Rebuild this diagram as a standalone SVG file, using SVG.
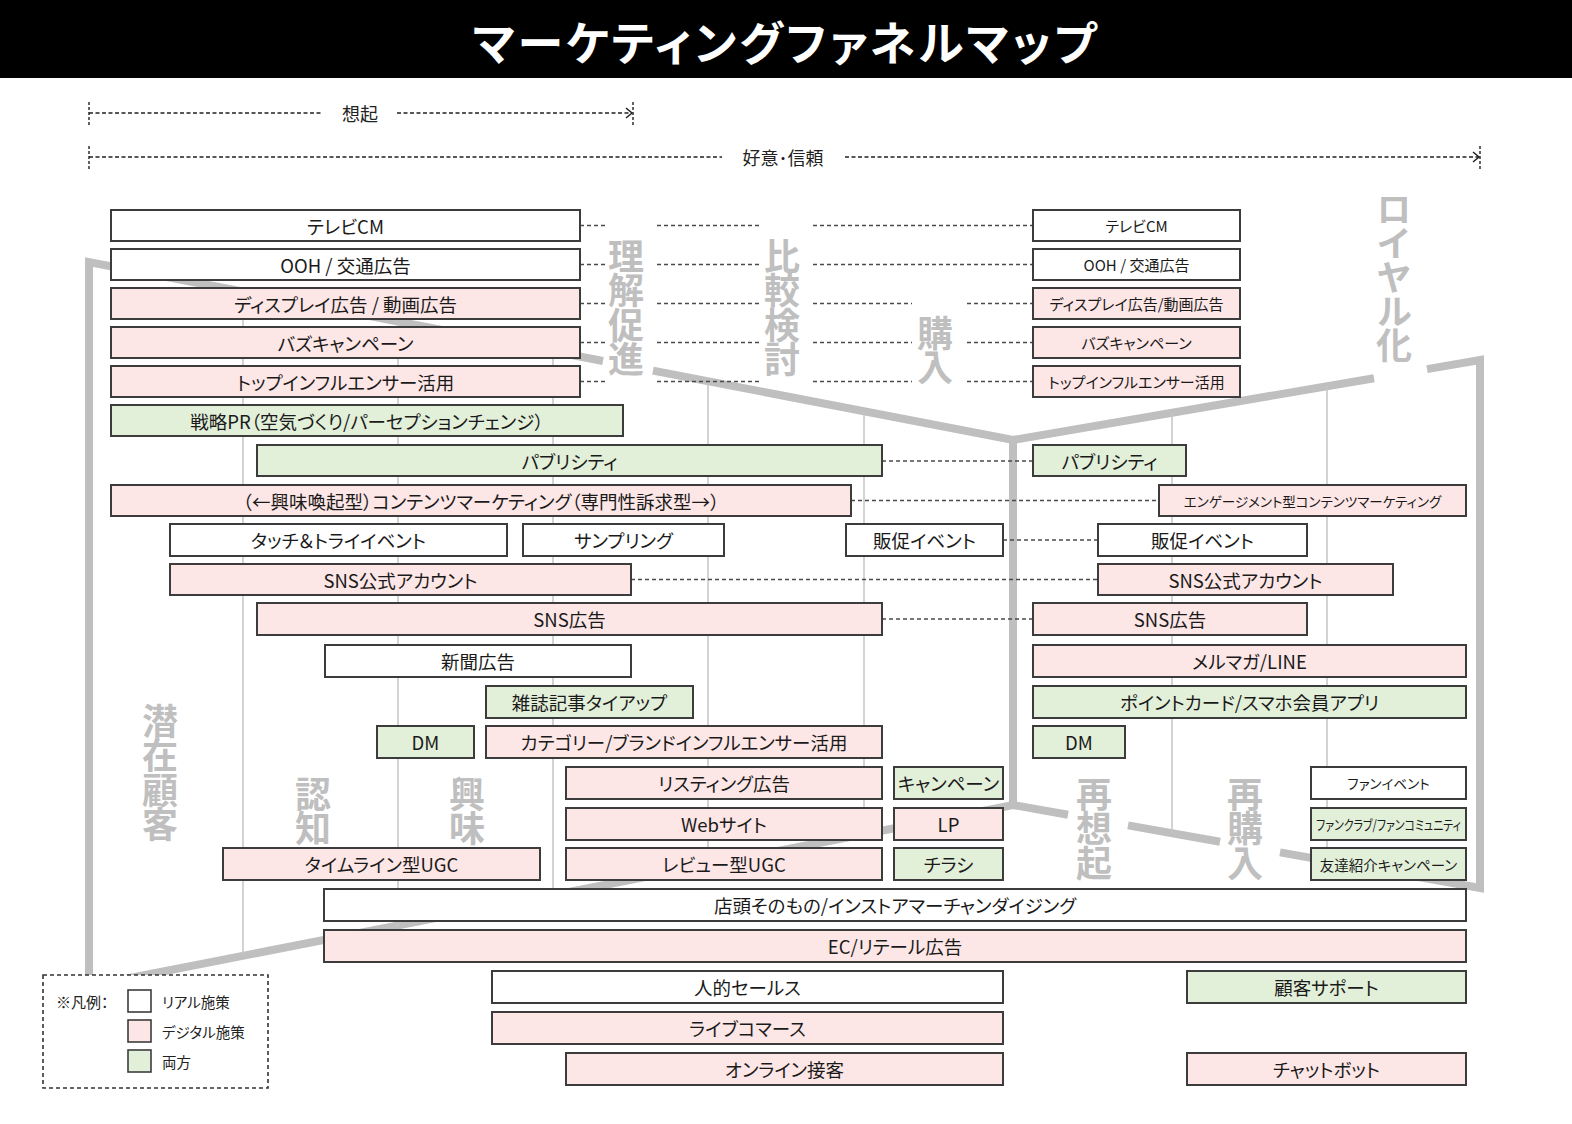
<svg xmlns="http://www.w3.org/2000/svg" width="1572" height="1124" viewBox="0 0 1572 1124">
<defs>
<style>
.w{fill:#ffffff}
.p{fill:#fde6e6}
.g{fill:#e2efd9}
.node rect{stroke:#3c3c3c;stroke-width:2}
text{font-family:"Noto Sans CJK JP","Noto Sans",sans-serif;font-feature-settings:"palt";}
.t{font-size:18.5px;fill:#1a1a1a;text-anchor:middle;dominant-baseline:central}
.s{font-size:15px}
.xs{font-size:13.5px}
.stage{font-size:36px;font-weight:700;fill:#bfbfbf;writing-mode:vertical-rl;letter-spacing:-1.5px;font-feature-settings:normal}
.funnel{stroke:#bfbfbf;stroke-width:8;fill:none;stroke-linejoin:miter}
.grid{stroke:#c4c4c4;stroke-width:1.5}
.dash{stroke:#4a4a4a;stroke-width:1.3;stroke-dasharray:4 3;fill:none}
.dim{stroke:#222;stroke-width:1.4;stroke-dasharray:4 2.5;fill:none}
.tick{stroke:#222;stroke-width:1.4;stroke-dasharray:3 2}
.lbl{font-size:18px;fill:#222;text-anchor:middle;dominant-baseline:central}
.leg{font-size:14.5px;fill:#222;dominant-baseline:central}
</style>
</defs>
<rect x="0" y="0" width="1572" height="1124" fill="#ffffff"/>
<g id="title">
<rect x="0" y="0" width="1572" height="78" fill="#000"/>
<text x="786" y="40" font-size="46" font-weight="700" fill="#fff" text-anchor="middle" dominant-baseline="central" letter-spacing="3">マーケティングファネルマップ</text>
</g>
<g id="dimensions">
<line class="tick" x1="89" y1="102" x2="89" y2="125"/>
<line class="tick" x1="633" y1="102" x2="633" y2="125"/>
<path class="dim" d="M89,113 H323 M397,113 H631"/>
<path d="M626,108 L632,113 L626,118" stroke="#222" stroke-width="1.5" fill="none"/>
<text class="lbl" x="360" y="113">想起</text>
<line class="tick" x1="89" y1="146" x2="89" y2="169"/>
<line class="tick" x1="1480" y1="146" x2="1480" y2="169"/>
<path class="dim" d="M89,157 H722 M845,157 H1478"/>
<path d="M1473,152 L1479,157 L1473,162" stroke="#222" stroke-width="1.5" fill="none"/>
<text class="lbl" x="783" y="157">好意･信頼</text>
</g>
<g id="funnel">
<path class="funnel" d="M89,990 L89,262 L603,361"/>
<path class="funnel" d="M653,370.6 L1013,440 L1374,378.2"/>
<path class="funnel" d="M1427,369.1 L1480,360 L1480,888 L1280,852.4"/>
<path class="funnel" d="M1220,841.8 L1128,825.4"/>
<path class="funnel" d="M1068,814.8 L1013,805 L89,986"/>
<path class="funnel" d="M1013,440 L1013,805"/>
<g class="grid">
<line x1="243" y1="291.5" x2="243" y2="956"/>
<line x1="398" y1="321.5" x2="398" y2="926"/>
<line x1="553" y1="351.5" x2="553" y2="895"/>
<line x1="708" y1="381.5" x2="708" y2="865"/>
<line x1="864" y1="412" x2="864" y2="834"/>
<line x1="1172" y1="413" x2="1172" y2="833"/>
<line x1="1327" y1="386" x2="1327" y2="861"/>
</g>
</g>
<g id="stages">
<text class="stage" writing-mode="vertical-rl" x="626" y="238">理解促進</text>
<text class="stage" writing-mode="vertical-rl" x="782" y="238">比較検討</text>
<text class="stage" writing-mode="vertical-rl" x="935" y="315">購入</text>
<text class="stage" writing-mode="vertical-rl" x="1394" y="191" style="letter-spacing:-2px">ロイヤル化</text>
<text class="stage" writing-mode="vertical-rl" x="160" y="703">潜在顧客</text>
<text class="stage" writing-mode="vertical-rl" x="313" y="776">認知</text>
<text class="stage" writing-mode="vertical-rl" x="467" y="776">興味</text>
<text class="stage" writing-mode="vertical-rl" x="1094" y="776">再想起</text>
<text class="stage" writing-mode="vertical-rl" x="1245" y="776">再購入</text>
</g>
<g id="connectors">
<path class="dash" d="M580,225.5 H606 M657,225.5 H760 M813,225.5 H1033"/>
<path class="dash" d="M580,264.5 H606 M657,264.5 H760 M813,264.5 H1033"/>
<path class="dash" d="M580,303.5 H606 M657,303.5 H760 M813,303.5 H912 M967,303.5 H1033"/>
<path class="dash" d="M580,342.5 H606 M657,342.5 H760 M813,342.5 H912 M967,342.5 H1033"/>
<path class="dash" d="M580,381.5 H606 M657,381.5 H760 M813,381.5 H912 M967,381.5 H1033"/>
<path class="dash" d="M882,461 H1033"/>
<path class="dash" d="M851,500.5 H1159"/>
<path class="dash" d="M1003,540 H1098"/>
<path class="dash" d="M631,579.5 H1098"/>
<path class="dash" d="M882,619 H1033"/>
</g>
<g id="n-tvcm" class="node"><rect class="w" x="111" y="210" width="469" height="31"/><text class="t" x="345.5" y="225.5">テレビCM</text></g>
<g id="n-ooh" class="node"><rect class="w" x="111" y="249" width="469" height="31"/><text class="t" x="345.5" y="264.5">OOH / 交通広告</text></g>
<g id="n-display" class="node"><rect class="p" x="111" y="288" width="469" height="31"/><text class="t" x="345.5" y="303.5">ディスプレイ広告 / 動画広告</text></g>
<g id="n-buzz" class="node"><rect class="p" x="111" y="327" width="469" height="31"/><text class="t" x="345.5" y="342.5">バズキャンペーン</text></g>
<g id="n-topinf" class="node"><rect class="p" x="111" y="366" width="469" height="31"/><text class="t" x="345.5" y="381.5">トップインフルエンサー活用</text></g>
<g id="n-pr" class="node"><rect class="g" x="111" y="405" width="512" height="31"/><text class="t" x="367" y="420.5">戦略PR（空気づくり/パーセプションチェンジ）</text></g>
<g id="n-publicity" class="node"><rect class="g" x="257" y="445" width="625" height="31"/><text class="t" x="569.5" y="460.5">パブリシティ</text></g>
<g id="n-content" class="node"><rect class="p" x="111" y="485" width="740" height="31"/><text class="t" x="481" y="500.5">（←興味喚起型）コンテンツマーケティング（専門性訴求型→）</text></g>
<g id="n-touch" class="node"><rect class="w" x="170" y="524" width="337" height="32"/><text class="t" x="338.5" y="540">タッチ＆トライイベント</text></g>
<g id="n-sampling" class="node"><rect class="w" x="523" y="524" width="201" height="32"/><text class="t" x="623.5" y="540">サンプリング</text></g>
<g id="n-promo" class="node"><rect class="w" x="846" y="524" width="157" height="32"/><text class="t" x="924.5" y="540">販促イベント</text></g>
<g id="n-snsacc" class="node"><rect class="p" x="170" y="564" width="461" height="31"/><text class="t" x="400.5" y="579.5">SNS公式アカウント</text></g>
<g id="n-snsad" class="node"><rect class="p" x="257" y="603" width="625" height="32"/><text class="t" x="569.5" y="619">SNS広告</text></g>
<g id="n-newspaper" class="node"><rect class="w" x="325" y="645" width="306" height="32"/><text class="t" x="478" y="661">新聞広告</text></g>
<g id="n-magazine" class="node"><rect class="g" x="486" y="686" width="207" height="32"/><text class="t" x="589.5" y="702">雑誌記事タイアップ</text></g>
<g id="n-dm" class="node"><rect class="g" x="377" y="726" width="97" height="32"/><text class="t" x="425.5" y="742">DM</text></g>
<g id="n-catinf" class="node"><rect class="p" x="486" y="726" width="396" height="32"/><text class="t" x="684" y="742">カテゴリー/ブランドインフルエンサー活用</text></g>
<g id="n-listing" class="node"><rect class="p" x="566" y="767" width="316" height="32"/><text class="t" x="724" y="783">リスティング広告</text></g>
<g id="n-campaign" class="node"><rect class="g" x="894" y="767" width="109" height="32"/><text class="t" x="948.5" y="783">キャンペーン</text></g>
<g id="n-web" class="node"><rect class="p" x="566" y="808" width="316" height="32"/><text class="t" x="724" y="824">Webサイト</text></g>
<g id="n-lp" class="node"><rect class="p" x="894" y="808" width="109" height="32"/><text class="t" x="948.5" y="824">LP</text></g>
<g id="n-timeline" class="node"><rect class="p" x="223" y="848" width="317" height="32"/><text class="t" x="381.5" y="864">タイムライン型UGC</text></g>
<g id="n-review" class="node"><rect class="p" x="566" y="848" width="316" height="32"/><text class="t" x="724" y="864">レビュー型UGC</text></g>
<g id="n-flyer" class="node"><rect class="g" x="894" y="848" width="109" height="32"/><text class="t" x="948.5" y="864">チラシ</text></g>
<g id="n-store" class="node"><rect class="w" x="324" y="889" width="1142" height="32"/><text class="t" x="895" y="905">店頭そのもの/インストアマーチャンダイジング</text></g>
<g id="n-ec" class="node"><rect class="p" x="324" y="930" width="1142" height="32"/><text class="t" x="895" y="946">EC/リテール広告</text></g>
<g id="n-sales" class="node"><rect class="w" x="492" y="971" width="511" height="32"/><text class="t" x="747.5" y="987">人的セールス</text></g>
<g id="n-support" class="node"><rect class="g" x="1187" y="971" width="279" height="32"/><text class="t" x="1326.5" y="987">顧客サポート</text></g>
<g id="n-live" class="node"><rect class="p" x="492" y="1012" width="511" height="32"/><text class="t" x="747.5" y="1028">ライブコマース</text></g>
<g id="n-online" class="node"><rect class="p" x="566" y="1053" width="437" height="32"/><text class="t" x="784.5" y="1069">オンライン接客</text></g>
<g id="n-chatbot" class="node"><rect class="p" x="1187" y="1053" width="279" height="32"/><text class="t" x="1326.5" y="1069">チャットボット</text></g>
<g id="r-tvcm" class="node"><rect class="w" x="1033" y="210" width="207" height="31"/><text class="t s" x="1136.5" y="225.5">テレビCM</text></g>
<g id="r-ooh" class="node"><rect class="w" x="1033" y="249" width="207" height="31"/><text class="t s" x="1136.5" y="264.5">OOH / 交通広告</text></g>
<g id="r-display" class="node"><rect class="p" x="1033" y="288" width="207" height="31"/><text class="t s" x="1136.5" y="303.5">ディスプレイ広告/動画広告</text></g>
<g id="r-buzz" class="node"><rect class="p" x="1033" y="327" width="207" height="31"/><text class="t s" x="1136.5" y="342.5">バズキャンペーン</text></g>
<g id="r-topinf" class="node"><rect class="p" x="1033" y="366" width="207" height="31"/><text class="t s" x="1136.5" y="381.5">トップインフルエンサー活用</text></g>
<g id="r-publicity" class="node"><rect class="g" x="1033" y="445" width="153" height="31"/><text class="t" x="1109.5" y="460.5">パブリシティ</text></g>
<g id="r-engage" class="node"><rect class="p" x="1159" y="485" width="307" height="31"/><text class="t xs" x="1312.5" y="500.5">エンゲージメント型コンテンツマーケティング</text></g>
<g id="r-promo" class="node"><rect class="w" x="1098" y="524" width="209" height="32"/><text class="t" x="1202.5" y="540">販促イベント</text></g>
<g id="r-snsacc" class="node"><rect class="p" x="1098" y="564" width="295" height="31"/><text class="t" x="1245.5" y="579.5">SNS公式アカウント</text></g>
<g id="r-snsad" class="node"><rect class="p" x="1033" y="603" width="274" height="32"/><text class="t" x="1170" y="619">SNS広告</text></g>
<g id="r-mail" class="node"><rect class="p" x="1033" y="645" width="433" height="32"/><text class="t" x="1249.5" y="661">メルマガ/LINE</text></g>
<g id="r-point" class="node"><rect class="g" x="1033" y="686" width="433" height="32"/><text class="t" x="1249.5" y="702">ポイントカード/スマホ会員アプリ</text></g>
<g id="r-dm" class="node"><rect class="g" x="1033" y="726" width="92" height="32"/><text class="t" x="1079" y="742">DM</text></g>
<g id="r-fanevent" class="node"><rect class="w" x="1311" y="767" width="155" height="32"/><text class="t xs" x="1388.5" y="783">ファンイベント</text></g>
<g id="r-fanclub" class="node"><rect class="g" x="1311" y="808" width="155" height="32"/><text class="t xs" x="1388.5" y="824" textLength="145" lengthAdjust="spacingAndGlyphs">ファンクラブ/ファンコミュニティ</text></g>
<g id="r-referral" class="node"><rect class="g" x="1311" y="848" width="155" height="32"/><text class="t" x="1388.5" y="864" style="font-size:14.5px">友達紹介キャンペーン</text></g>
<g id="legend">
<rect x="43" y="975" width="225" height="113" fill="#fff" stroke="#333" stroke-width="1.6" stroke-dasharray="4 3"/>
<text class="leg" x="56" y="1001" style="font-size:15px">※凡例：</text>
<rect class="w" x="128" y="990" width="23" height="22" stroke="#3c3c3c" stroke-width="1.6"/>
<rect class="p" x="128" y="1020" width="23" height="22" stroke="#3c3c3c" stroke-width="1.6"/>
<rect class="g" x="128" y="1050" width="23" height="22" stroke="#3c3c3c" stroke-width="1.6"/>
<text class="leg" x="162" y="1001">リアル施策</text>
<text class="leg" x="162" y="1031">デジタル施策</text>
<text class="leg" x="162" y="1061">両方</text>
</g>
</svg>
